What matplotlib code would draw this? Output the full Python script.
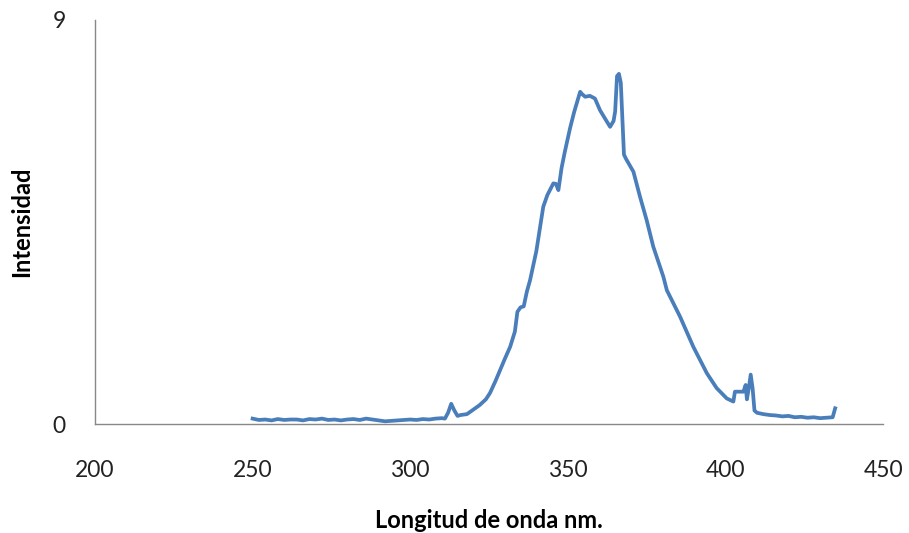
import matplotlib
matplotlib.use("Agg")
import matplotlib.pyplot as plt

# espectro
base_wl = [250, 252, 254, 256, 258, 260, 262, 264, 266, 268, 270, 272, 274, 276, 278, 280,
           282, 284, 286, 288, 290, 292, 294, 296, 298, 300, 302, 304, 306, 308, 310]
base_int = [0.12, 0.09, 0.10, 0.08, 0.11, 0.09, 0.10, 0.10, 0.08, 0.11, 0.10, 0.12, 0.09, 0.10, 0.08, 0.10,
            0.11, 0.09, 0.12, 0.10, 0.08, 0.06, 0.07, 0.08, 0.09, 0.10, 0.09, 0.11, 0.10, 0.12, 0.13]

peak_wl = [311, 312, 313, 314, 315, 316, 318, 319, 320, 322, 324, 325.3, 327, 328.5, 330, 331.7,
           333.2, 334, 335, 336, 337, 338, 340, 341, 342.2, 343.5, 345.4, 346.2, 347, 348, 349,
           350.7, 352, 353.9, 354.5, 355.5, 357, 358.6, 360.2, 362, 363.4, 364.5, 365, 365.6,
           366.2, 366.8, 367.3, 367.8, 368.5, 370.8, 372.9, 375, 377.1, 380.3, 381.4, 385.6,
           389.8, 394.1, 397.2, 400.4, 402.5, 403, 405.7, 406.4, 406.8, 407.4, 408, 408.6, 409.2, 410]
peak_int = [0.12, 0.25, 0.45, 0.30, 0.18, 0.20, 0.22, 0.27, 0.32, 0.42, 0.55, 0.69, 0.95, 1.20, 1.45, 1.72,
            2.06, 2.50, 2.60, 2.62, 2.95, 3.20, 3.85, 4.30, 4.84, 5.10, 5.36, 5.35, 5.21, 5.70, 6.05,
            6.59, 6.95, 7.40, 7.35, 7.29, 7.31, 7.25, 6.99, 6.78, 6.62, 6.75, 6.96, 7.75,
            7.80, 7.60, 6.80, 6.00, 5.90, 5.62, 5.06, 4.54, 3.95, 3.28, 2.98, 2.39,
            1.72, 1.13, 0.80, 0.57, 0.50, 0.72, 0.72, 0.87, 0.55, 0.80, 1.10, 0.80, 0.30, 0.25]

tail_wl = [412, 414, 416, 418, 420, 422, 424, 426, 428, 430, 432, 434, 434.8]
tail_int = [0.22, 0.20, 0.19, 0.17, 0.18, 0.15, 0.16, 0.14, 0.15, 0.13, 0.14, 0.15, 0.35]

wl = base_wl + peak_wl + tail_wl
inten = base_int + peak_int + tail_int

plt.rcParams['font.family'] = ['Lato', 'DejaVu Sans']

fig = plt.figure(figsize=(9.09, 5.33), dpi=100)
ax = fig.add_axes([0.1045, 0.2045, 0.867, 0.758])
ax.plot(wl, inten, color='#4A7EBB', linewidth=2.7, solid_joinstyle='round')

ax.set_xlim(200, 450)
ax.set_ylim(0, 9)
ax.set_xticks([200, 250, 300, 350, 400, 450])
ax.set_yticks([0, 9])
ax.tick_params(axis='both', length=0, labelsize=16.5, colors='#222222')
ax.tick_params(axis='x', pad=26)
ax.tick_params(axis='y', pad=21)
for s in ['top', 'right']:
    ax.spines[s].set_visible(False)
for s in ['left', 'bottom']:
    ax.spines[s].set_color('#888888')
    ax.spines[s].set_linewidth(1)

ax.set_xlabel('Longitud de onda nm.', fontsize=17, fontweight='bold')
ax.xaxis.set_label_coords(0.5, -0.21)
ax.set_ylabel('Intensidad', fontsize=17, fontweight='bold')
ax.yaxis.set_label_coords(-0.078, 0.5)

fig.savefig('out.png', dpi=100)
